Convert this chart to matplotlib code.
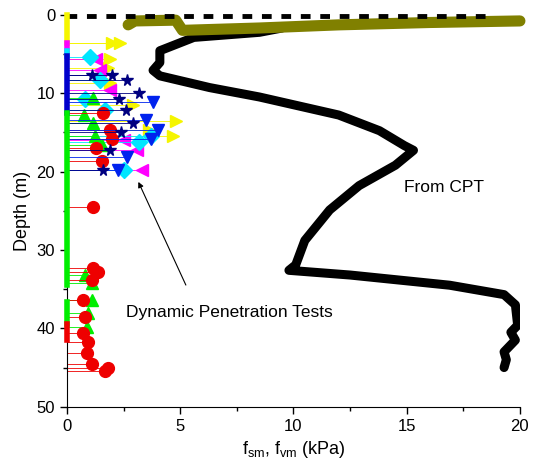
import matplotlib.pyplot as plt

plt.rcParams['font.family'] = ['Liberation Sans', 'DejaVu Sans']

# CPT sleeve friction profile (kPa, m)
cpt_f = [9.5, 8.5, 5.6, 4.1, 4.1, 3.8, 4.1, 6.3, 8.5, 12.0, 13.8, 14.9, 15.3, 14.5,
         12.9, 11.6, 10.5, 10.1, 9.8, 12.5, 16.9, 19.3, 19.8, 19.9, 19.6, 19.8, 19.3, 19.4, 19.3]
cpt_d = [1.7, 2.25, 2.9, 4.6, 6.1, 7.1, 7.8, 9.3, 10.5, 12.8, 14.8, 16.7, 17.3, 19.2,
         21.8, 24.9, 28.8, 31.9, 32.6, 33.2, 34.5, 35.7, 37.0, 39.6, 40.5, 41.5, 43.0, 44.0, 45.0]

# near-surface traces
olive_f = [2.7, 3.0, 4.8, 5.1, 8.5, 12.0, 16.0, 20.0]
olive_d = [1.3, 0.8, 0.7, 2.0, 1.7, 1.3, 1.0, 0.8]
top_f = [0.0, 18.6]
top_d = [0.15, 0.15]

# dynamic penetration tests, one list per test
yel_f = [2.0, 2.35, 1.9, 1.8, 1.9, 2.9, 3.6, 4.8, 4.7]
yel_d = [3.6, 3.6, 5.7, 6.8, 8.7, 11.5, 14.7, 13.6, 15.5]
mag_f = [1.3, 1.46, 1.9, 2.5, 3.1, 3.3]
mag_d = [5.7, 7.0, 9.6, 16.0, 17.2, 19.8]
cya_f = [1.0, 1.46, 0.8, 1.7, 3.7, 3.2, 2.5]
cya_d = [5.4, 8.3, 10.8, 12.1, 15.5, 16.3, 19.8]
nav_f = [1.1, 2.0, 2.65, 3.2, 2.3, 2.6, 2.9, 2.4, 1.9, 1.6]
nav_d = [7.7, 7.7, 8.3, 10.0, 10.8, 12.1, 13.8, 15.0, 17.2, 19.8]
blu_f = [3.8, 3.5, 4.0, 3.7, 2.65, 2.25]
blu_d = [11.2, 13.4, 14.7, 15.9, 18.1, 19.8]
grn_f = [1.15, 0.75, 1.15, 1.24, 1.54, 0.8, 1.1, 1.1, 0.93, 0.9]
grn_d = [10.6, 12.8, 13.8, 15.5, 16.6, 33.2, 34.2, 36.4, 38.0, 39.8]
red_f = [1.6, 1.9, 2.0, 1.3, 1.55, 1.15, 1.15, 1.37, 1.1, 0.7, 0.8, 0.7, 0.93, 0.9, 1.1, 1.7, 1.8]
red_d = [12.5, 14.7, 15.9, 17.0, 18.7, 24.5, 32.3, 32.8, 33.8, 36.4, 38.5, 40.6, 41.8, 43.1, 44.6, 45.5, 45.0]

# coloured bars along the depth axis
bar_d0 = [0.0, 3.6, 4.6, 5.3, 12.5, 36.6, 39.5]
bar_d1 = [3.6, 4.6, 5.3, 12.5, 34.5, 39.5, 41.5]
bar_c = ['#f5f500', '#ff00ff', '#00e5ff', '#0000cc', '#00ee00', '#00ee00', '#ee0000']

fig = plt.figure(figsize=(5.36, 4.73), dpi=100)
ax = fig.add_axes([0.125, 0.14, 0.845, 0.829])

ax.plot(top_f, top_d, color='black', lw=3.5, ls=(0, (2, 2)), clip_on=False, zorder=3)
ax.plot(cpt_f, cpt_d, color='black', lw=6.5, solid_joinstyle='round', solid_capstyle='round')
ax.plot(olive_f, olive_d, color='#808000', lw=8, solid_capstyle='round', clip_on=False)

tests = [
    (yel_f, yel_d, '#f5f500', '>'),
    (mag_f, mag_d, '#ff00ff', '<'),
    (cya_f, cya_d, '#00e5ff', 'D'),
    (grn_f, grn_d, '#00ee00', '^'),
    (red_f, red_d, '#ee0000', 'o'),
    (blu_f, blu_d, '#0022ee', 'v'),
    (nav_f, nav_d, '#000080', '*'),
]
for f, d, c, m in tests:
    ax.hlines(d, 0, f, color=c, lw=0.6)
    ax.plot(f, d, ls='none', marker=m, ms=8.5, color=c, mec=c)

for d0, d1, c in zip(bar_d0, bar_d1, bar_c):
    ax.plot([0, 0], [d0, d1], color=c, lw=4, clip_on=False, zorder=4)

ax.text(14.9, 22.1, 'From CPT', fontsize=12.5, ha='left', va='center')
ax.text(2.6, 38.0, 'Dynamic Penetration Tests', fontsize=12.5, ha='left', va='center')
ax.annotate('', xy=(3.1, 21.0), xytext=(5.3, 34.8),
            arrowprops=dict(arrowstyle='-|>', color='black', lw=0.8, mutation_scale=8))

ax.set_xlim(0, 20)
ax.set_ylim(50, 0)
ax.set_xticks([0, 5, 10, 15, 20])
ax.set_xticks([2.5, 7.5, 12.5, 17.5], minor=True)
ax.set_yticks([0, 10, 20, 30, 40, 50])
ax.set_yticks([5, 15, 25, 35, 45], minor=True)
ax.spines['top'].set_visible(False)
ax.spines['right'].set_visible(False)
ax.tick_params(direction='out', labelsize=12, length=5, width=1)
ax.tick_params(which='minor', direction='out', length=3, width=1)
ax.set_xlabel(r'f$_{\mathregular{sm}}$, f$_{\mathregular{vm}}$ (kPa)', fontsize=13)
ax.set_ylabel('Depth (m)', fontsize=13)

fig.savefig('out.png', dpi=100)
